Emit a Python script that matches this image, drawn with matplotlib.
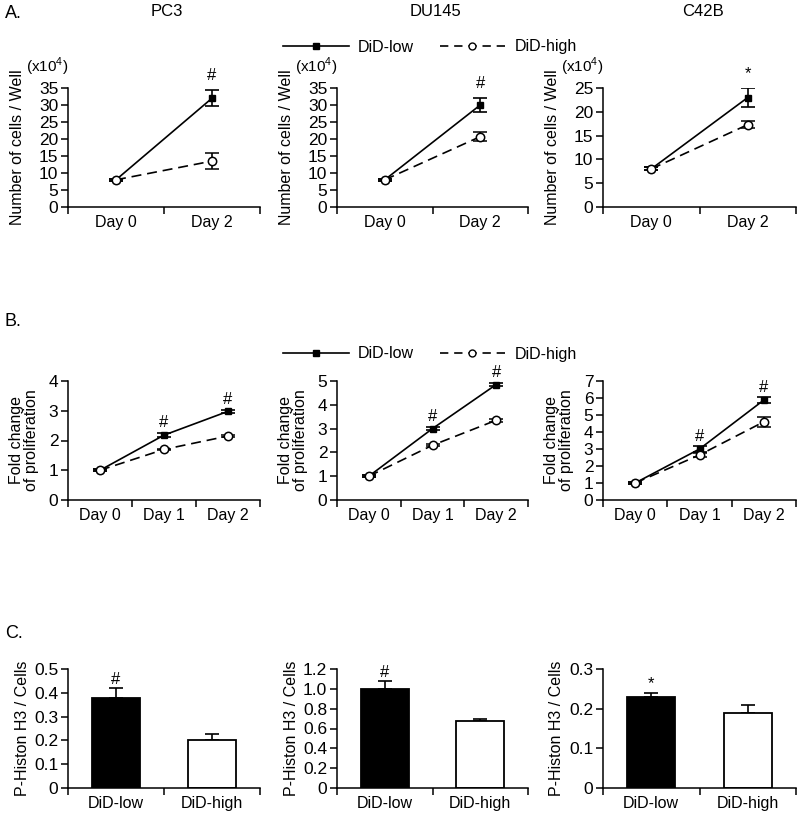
import matplotlib
matplotlib.use('Agg')
import matplotlib.pyplot as plt
from matplotlib.lines import Line2D
import numpy as np

plt.rcParams['font.family'] = ['Liberation Sans', 'DejaVu Sans']
plt.rcParams['mathtext.fontset'] = 'custom'
plt.rcParams['mathtext.rm'] = 'Liberation Sans'
plt.rcParams['font.size'] = 11

# ---- data ----
cells = ['PC3', 'DU145', 'C42B']

a_days = ['Day 0', 'Day 2']
a_low = [[8, 32], [8, 30], [8, 23]]
a_low_err = [[0.3, 2.4], [0.3, 2.0], [0.3, 2.0]]
a_high = [[8, 13.5], [8, 20.7], [8, 17.3]]
a_high_err = [[0.3, 2.4], [0.3, 1.4], [0.3, 0.8]]
a_ymax = [35, 35, 25]
a_sig = ['#', '#', '*']

b_days = ['Day 0', 'Day 1', 'Day 2']
b_low = [[1, 2.18, 2.98], [1, 3.0, 4.85], [1, 3.0, 5.88]]
b_low_err = [[0.03, 0.07, 0.05], [0.05, 0.06, 0.06], [0.06, 0.15, 0.15]]
b_high = [[1, 1.7, 2.15], [1, 2.3, 3.35], [1, 2.65, 4.6]]
b_high_err = [[0.03, 0.03, 0.04], [0.04, 0.05, 0.06], [0.05, 0.1, 0.3]]
b_ymax = [4, 5, 7]
b_sig = [['', '#', '#'], ['', '#', '#'], ['', '#', '#']]

c_groups = ['DiD-low', 'DiD-high']
c_low = [0.38, 1.0, 0.23]
c_low_err = [0.04, 0.08, 0.01]
c_high = [0.2, 0.68, 0.19]
c_high_err = [0.025, 0.015, 0.02]
c_ymax = [0.5, 1.2, 0.3]
c_step = [0.1, 0.2, 0.1]
c_sig = ['#', '#', '*']

W, H = 800, 816
fig = plt.figure(figsize=(W / 100, H / 100), dpi=100)


def box(x0, x1, ytop, ybot):
    return [x0 / W, 1 - ybot / H, (x1 - x0) / W, (ybot - ytop) / H]


xcols = [(68, 260), (337, 528), (603, 796)]
rows = {'A': (88, 207), 'B': (381, 500), 'C': (669, 788)}


def style(ax, n, labels):
    for s in ['top', 'right']:
        ax.spines[s].set_visible(False)
    for s in ['left', 'bottom']:
        ax.spines[s].set_linewidth(1.1)
    ax.set_xlim(-0.5, n - 0.5)
    ax.set_xticks(np.arange(n + 1) - 0.5)
    ax.set_xticklabels([])
    ax.set_xticks(np.arange(n), minor=True)
    ax.set_xticklabels(labels, minor=True)
    ax.tick_params(axis='x', which='minor', length=0, pad=6, labelsize=11.5)
    ax.tick_params(axis='x', which='major', length=5, width=1.1)
    ax.tick_params(axis='y', length=5, width=1.1, labelsize=12.5, pad=2)


def lines(ax, n, low, low_e, high, high_e):
    x = np.arange(n)
    ax.errorbar(x, low, yerr=low_e, color='black', lw=1.2, marker='s', ms=5,
                mfc='black', capsize=5, capthick=1.2, elinewidth=1.2, zorder=3)
    ax.errorbar(x, high, yerr=high_e, color='black', lw=1.2, ls=(0, (6, 3.5)),
                marker='o', ms=6, mfc='white', mec='black', mew=1.1,
                capsize=5, capthick=1.2, elinewidth=1.2, zorder=4)


# ---- row A ----
for i, c in enumerate(cells):
    ax = fig.add_axes(box(*xcols[i], *rows['A']))
    lines(ax, 2, a_low[i], a_low_err[i], a_high[i], a_high_err[i])
    ax.set_ylim(0, a_ymax[i])
    ax.set_yticks(np.arange(0, a_ymax[i] + 1, 5))
    style(ax, 2, a_days)
    ax.set_ylabel('Number of cells / Well', fontsize=11.5)
    ax.yaxis.set_label_coords(-0.225, 0.5)
    ax.text(0, 1.08, r'(x10$^4$)', transform=ax.transAxes, ha='right',
            va='bottom', fontsize=11)
    top = a_low[i][1] + a_low_err[i][1]
    ax.annotate(a_sig[i], (1, top), xytext=(0, 5), textcoords='offset points',
                ha='center', va='bottom', fontsize=12, annotation_clip=False)
    fig.text((xcols[i][0] + xcols[i][1]) / 2 / W + 0.004, 1 - 12 / H, c,
             ha='center', va='center', fontsize=12)

# ---- row B ----
for i, c in enumerate(cells):
    ax = fig.add_axes(box(*xcols[i], *rows['B']))
    lines(ax, 3, b_low[i], b_low_err[i], b_high[i], b_high_err[i])
    ax.set_ylim(0, b_ymax[i])
    ax.set_yticks(np.arange(0, b_ymax[i] + 1, 1))
    style(ax, 3, b_days)
    ax.set_ylabel('Fold change\nof proliferation', fontsize=11.5,
                  linespacing=1.0)
    ax.yaxis.set_label_coords(-0.15, 0.5)
    for j, s in enumerate(b_sig[i]):
        if s:
            top = b_low[i][j] + b_low_err[i][j]
            ax.annotate(s, (j, top), xytext=(0, 2), textcoords='offset points',
                        ha='center', va='bottom', fontsize=12,
                        annotation_clip=False)

# ---- row C ----
for i, c in enumerate(cells):
    ax = fig.add_axes(box(*xcols[i], *rows['C']))
    ax.bar([0, 1], [c_low[i], c_high[i]], width=0.5, color=['black', 'white'],
           edgecolor='black', linewidth=1.3, zorder=2)
    ax.errorbar([0, 1], [c_low[i], c_high[i]],
                yerr=[[0, 0], [c_low_err[i], c_high_err[i]]], fmt='none',
                ecolor='black', elinewidth=1.2, capsize=5, capthick=1.2, zorder=1)
    ax.set_ylim(0, c_ymax[i])
    ticks = np.round(np.arange(0, c_ymax[i] + 1e-9, c_step[i]), 2)
    ax.set_yticks(ticks)
    if c_step[i] == 0.2:
        ax.set_yticklabels(['0'] + ['%.1f' % t for t in ticks[1:]])
    else:
        ax.set_yticklabels(['0'] + ['%g' % t for t in ticks[1:]])
    style(ax, 2, c_groups)
    ax.set_ylabel('P-Histon H3 / Cells', fontsize=11.5)
    ax.yaxis.set_label_coords(-0.2, 0.5)
    top = c_low[i] + c_low_err[i]
    ax.annotate(c_sig[i], (0, top), xytext=(0, 1), textcoords='offset points',
                ha='center', va='bottom', fontsize=12, annotation_clip=False)

# ---- legends ----
handles = [Line2D([], [], color='black', lw=1.2, marker='s', ms=4.5),
           Line2D([], [], color='black', lw=1.2, ls=(0, (5, 3.5)), marker='o',
                  ms=5, mfc='white', mec='black')]
for yl in [47, 354]:
    fig.legend(handles, ['DiD-low', 'DiD-high'], loc='center',
               bbox_to_anchor=(430 / W, 1 - yl / H), ncol=2, frameon=False,
               handlelength=4.1, columnspacing=1.6, handletextpad=0.6,
               fontsize=11.5, numpoints=1)

# ---- panel letters ----
for lab, yl in [('A.', 13), ('B.', 322), ('C.', 633)]:
    fig.text(5 / W, 1 - yl / H, lab, ha='left', va='center', fontsize=13)

fig.savefig('out.png', dpi=100)
